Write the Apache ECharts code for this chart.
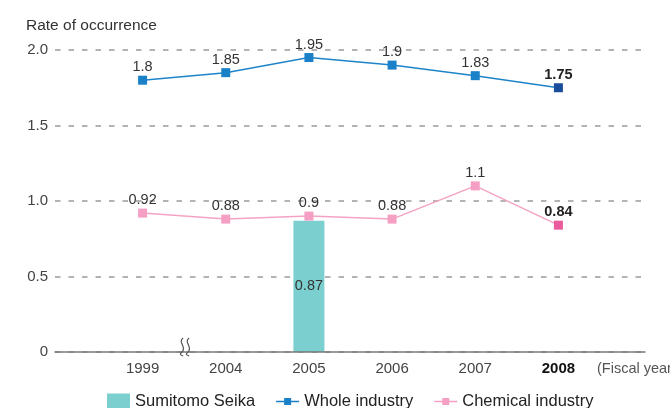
<!DOCTYPE html>
<html>
<head>
<meta charset="utf-8">
<script src="https://cdn.jsdelivr.net/npm/echarts@6/dist/echarts.min.js"></script>
<style>
html,body{margin:0;padding:0;background:#fff;}
#c{width:670px;height:408px;}
</style>
</head>
<body>
<div id="c"></div>
<script>
var years = ['1999', '2004', '2005', '2006', '2007', '2008'];
var seikaValues = [null, null, 0.87, null, null, null];
var wholeIndustry = [1.8, 1.85, 1.95, 1.9, 1.83, 1.75];
var chemicalIndustry = [0.92, 0.88, 0.9, 0.88, 1.1, 0.84];
var yTicks = [0, 0.5, 1.0, 1.5, 2.0];

var FONT = '"Liberation Sans", Arial, sans-serif';
var lastIdx = years.length - 1;
var LINE_ICON = 'path://M0,0L0.01,0L0.01,0.01Z M23,16L22.99,16L22.99,15.99Z M0,7.3H8V4.5H15V7.3H23V8.7H15V11.5H8V8.7H0Z';

function lineData(vals, lastColor) {
  return vals.map(function (v, i) {
    if (i === lastIdx) {
      return { value: v, itemStyle: { color: lastColor }, label: { fontWeight: 'bold', color: '#222' } };
    }
    return v;
  });
}

var chart = echarts.init(document.getElementById('c'), null, { renderer: 'canvas' });

var option = {
  animation: false,
  textStyle: { fontFamily: FONT },
  title: {
    text: 'Rate of occurrence',
    left: 21, top: 13,
    textStyle: { fontFamily: FONT, fontSize: 15.5, fontWeight: 'normal', color: '#333' }
  },
  legend: {
    left: 102, top: 388,
    itemWidth: 23, itemHeight: 16, itemGap: 21,
    textStyle: { fontFamily: FONT, fontSize: 16.5, color: '#222' },
    data: [
      { name: 'Sumitomo Seika', icon: 'rect' },
      { name: 'Whole industry', icon: LINE_ICON, itemStyle: { color: '#1a80c8' } },
      { name: 'Chemical industry', icon: LINE_ICON, itemStyle: { color: '#f59fc4' } }
    ]
  },
  grid: [
    { left: 55, right: 25, top: 50, bottom: 56, outerBoundsMode: 'none', containLabel: false },
    { left: 101, right: 70, top: 50, bottom: 56, outerBoundsMode: 'none', containLabel: false }
  ],
  xAxis: [
    {
      gridIndex: 0, type: 'category', data: [''],
      axisLine: { show: true, lineStyle: { color: '#7a7a7a', width: 1.5 } },
      axisTick: { show: false }, axisLabel: { show: false }, z: 5
    },
    {
      gridIndex: 1, type: 'category', data: years,
      axisLine: { show: false }, axisTick: { show: false },
      axisLabel: {
        margin: 9, fontSize: 15, color: '#444', fontFamily: FONT,
        formatter: function (v, i) { return i === lastIdx ? '{b|' + v + '}' : v; },
        rich: { b: { fontWeight: 'bold', color: '#111', fontSize: 15, fontFamily: FONT } }
      },
      name: '(Fiscal year)', nameLocation: 'end', nameGap: -3,
      nameTextStyle: { fontSize: 14.5, color: '#555', fontFamily: FONT, verticalAlign: 'top', padding: [9, 0, 0, 0] }
    }
  ],
  yAxis: [
    {
      gridIndex: 0, type: 'value', min: 0, max: 2, interval: 0.5,
      axisLine: { show: false }, axisTick: { show: false },
      axisLabel: {
        margin: 7, fontSize: 15, color: '#444', fontFamily: FONT,
        formatter: function (v) { return v === 0 ? '0' : v.toFixed(1); }
      },
      splitLine: { show: true, lineStyle: { color: '#9a9a9a', width: 1.5, type: [5.5, 8] } }
    },
    {
      gridIndex: 1, type: 'value', min: 0, max: 2, interval: 0.5,
      axisLine: { show: false }, axisTick: { show: false }, axisLabel: { show: false },
      splitLine: { show: false }
    }
  ],
  series: [
    {
      name: 'Sumitomo Seika', type: 'bar', xAxisIndex: 1, yAxisIndex: 1,
      data: seikaValues, barWidth: 31,
      itemStyle: { color: '#7bcfcf' },
      label: { show: true, position: 'inside', fontSize: 14.5, color: '#333', fontFamily: FONT }
    },
    {
      name: 'Whole industry', type: 'line', xAxisIndex: 1, yAxisIndex: 1,
      data: lineData(wholeIndustry, '#1a4e9c'),
      symbol: 'rect', symbolSize: 9,
      lineStyle: { color: '#1e84c9', width: 1.5 },
      itemStyle: { color: '#1a80c8' },
      label: { show: true, position: 'top', distance: 1, fontSize: 14.5, color: '#333', fontFamily: FONT },
      z: 4
    },
    {
      name: 'Chemical industry', type: 'line', xAxisIndex: 1, yAxisIndex: 1,
      data: lineData(chemicalIndustry, '#ea5a9c'),
      symbol: 'rect', symbolSize: 9,
      lineStyle: { color: '#f4a3c4', width: 1.5 },
      itemStyle: { color: '#f59fc4' },
      label: { show: true, position: 'top', distance: 1, fontSize: 14.5, color: '#333', fontFamily: FONT },
      z: 4
    }
  ]
};

chart.setOption(option);

// axis break mark between the first two categories
var p0 = chart.convertToPixel({ xAxisIndex: 1, yAxisIndex: 1 }, [0, 0]);
var p1 = chart.convertToPixel({ xAxisIndex: 1, yAxisIndex: 1 }, [1, 0]);
var bx = (p0[0] + p1[0]) / 2 + 1;
var by = p0[1] - 1;
function waveParts(dx) {
  var x = bx + dx;
  return [
    { type: 'bezierCurve', z: 101,
      shape: { x1: x + 1, y1: by - 13, cpx1: x - 5, cpy1: by - 9, cpx2: x + 5, cpy2: by - 4, x2: x, y2: by + 1 },
      style: { stroke: '#555', lineWidth: 1.2, fill: null } },
    { type: 'bezierCurve', z: 101,
      shape: { x1: x, y1: by + 1, cpx1: x - 3, cpy1: by + 3, cpx2: x - 2, cpy2: by + 4, x2: x + 1, y2: by + 5 },
      style: { stroke: '#555', lineWidth: 1.2, fill: null } }
  ];
}
chart.setOption({ graphic: waveParts(-3).concat(waveParts(3)) });
</script>
</body>
</html>
